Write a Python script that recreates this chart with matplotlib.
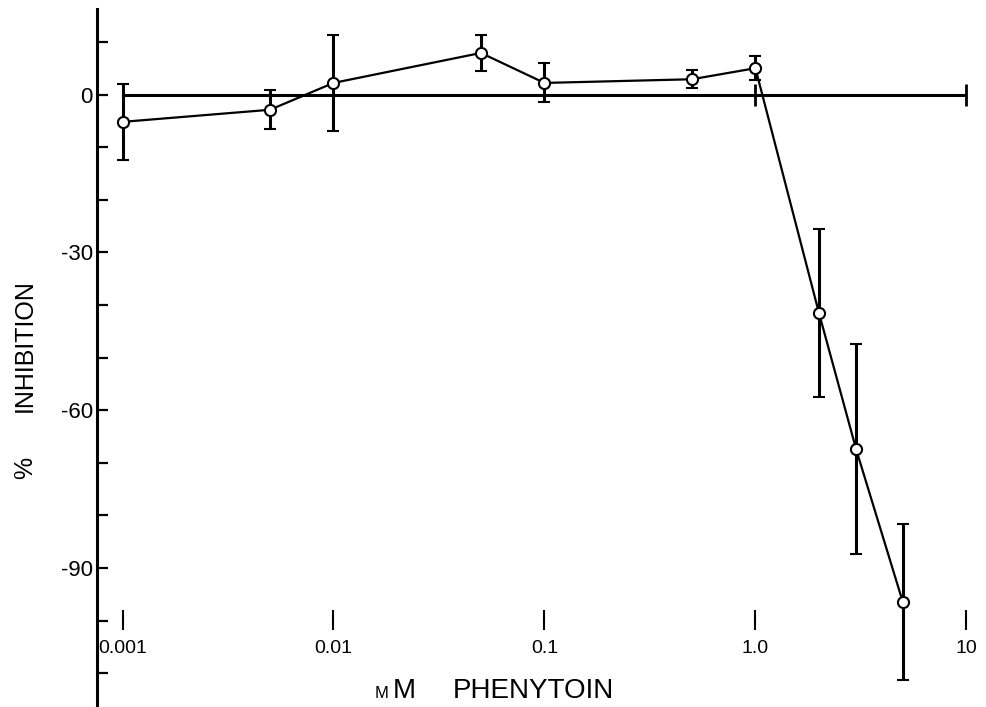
import numpy as np
import matplotlib.pyplot as plt
from matplotlib.ticker import FixedLocator, FixedFormatter, NullLocator

plt.rcParams['font.family'] = ['Liberation Sans', 'DejaVu Sans']

# данные
conc = [0.001, 0.005, 0.01, 0.05, 0.1, 0.5, 1.0, 2.0, 3.0, 5.0]   # mM
inhib = [-5.2, -2.9, 2.2, 7.9, 2.2, 2.9, 5.0, -41.5, -67.4, -96.5]  # %
err = [7.2, 3.7, 9.2, 3.5, 3.7, 1.7, 2.3, 16.0, 19.9, 14.8]

xticks = [0.001, 0.01, 0.1, 1.0, 10]
xtick_labels = ['0.001', '0.01', '0.1', '1.0', '10']
yticks = [0, -30, -60, -90]
ytick_labels = ['0', '-30', '-60', '-90']
yminor = [10, -10, -20, -40, -50, -70, -80, -100, -110]
zero_marks = [1.0, 10]

W, H = 986, 707
fig = plt.figure(figsize=(W / 100, H / 100), dpi=100)
ax = fig.add_axes([97 / W, 0, (980 - 97) / W, 1 - 9 / H])
ax.set_xscale('log')
ax.set_xlim(7.57e-4, 11.6)
ax.set_ylim(-116.4, 16.25)

for s in ['top', 'right']:
    ax.spines[s].set_visible(False)
ax.spines['left'].set_linewidth(2.2)
ax.spines['bottom'].set_position(('data', -99.8))
ax.spines['bottom'].set_visible(False)

# ось Y
ax.yaxis.set_major_locator(FixedLocator(yticks))
ax.yaxis.set_major_formatter(FixedFormatter(ytick_labels))
ax.yaxis.set_minor_locator(FixedLocator(yminor))
ax.tick_params(axis='y', which='both', direction='in', length=8, width=1.6,
               labelsize=16, pad=3)

# ось X (метки висят над подписями)
ax.xaxis.set_major_locator(FixedLocator(xticks))
ax.xaxis.set_major_formatter(FixedFormatter(xtick_labels))
ax.xaxis.set_minor_locator(NullLocator())
ax.tick_params(axis='x', which='major', direction='inout', length=15, width=1.5,
               labelsize=14, pad=7)

# нулевая линия
ax.hlines(0, 0.001, 10, color='black', lw=2.2, zorder=1)
ax.plot(zero_marks, [0] * len(zero_marks), ls='none', marker='|',
        ms=16, mew=2, color='black', zorder=1)

# данные
ax.errorbar(conc, inhib, yerr=err, fmt='-o', color='black', lw=1.6,
            elinewidth=2.2, capsize=4.5, capthick=2.2, ms=8,
            mfc='white', mec='black', mew=1.5, zorder=3)

# подписи осей
fig.text(375 / W, 1 - 698 / H, 'M', fontsize=12, ha='left', va='baseline')
fig.text(393 / W, 1 - 698 / H, 'M', fontsize=20, ha='left', va='baseline')
fig.text(453 / W, 1 - 698 / H, 'PHENYTOIN', fontsize=20, ha='left', va='baseline')
fig.text(25 / W, 1 - 468 / H, '%', fontsize=18, rotation=90, ha='center', va='center')
fig.text(25 / W, 1 - 346 / H, 'INHIBITION', fontsize=18, rotation=90,
         ha='center', va='center')

fig.savefig('out.png', dpi=100)
